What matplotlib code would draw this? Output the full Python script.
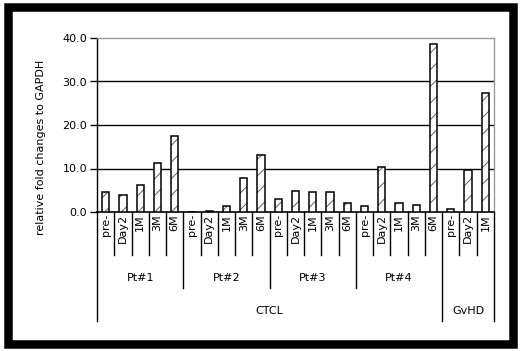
import matplotlib
matplotlib.use("Agg")
import matplotlib.pyplot as plt
from matplotlib.patches import Rectangle
import matplotlib.transforms as mtransforms

plt.rcParams['font.family'] = ['DejaVu Sans']
plt.rcParams['hatch.linewidth'] = 0.7

# ---- data ----
timepoints = ["pre-", "Day2", "1M", "3M", "6M"]
groups = ["Pt#1", "Pt#2", "Pt#3", "Pt#4", "GvHD"]
group_tps = [timepoints, timepoints, timepoints, timepoints, ["pre-", "Day2", "1M"]]
pt1 = [4.5, 3.8, 6.2, 11.3, 17.5]
pt2 = [0.0, 0.3, 1.3, 7.8, 13.0]
pt3 = [3.0, 4.8, 4.7, 4.7, 2.0]
pt4 = [1.3, 10.3, 2.0, 1.7, 38.7]
gvhd = [0.8, 9.7, 27.4]
disease_labels = ["CTCL", "GvHD"]
disease_groups = [["Pt#1", "Pt#2", "Pt#3", "Pt#4"], ["GvHD"]]
yticks = [0, 10, 20, 30, 40]
ylabel = "relative fold changes to GAPDH"

series = [pt1, pt2, pt3, pt4, gvhd]

W, H = 520, 351
fig = plt.figure(figsize=(W / 100, H / 100), dpi=100)

def fx(px):
    return px / W

def fy(py):
    return 1 - py / H

ax_l, ax_r, ax_t, ax_b = 97, 494, 38, 212
ax = fig.add_axes([fx(ax_l), fy(ax_b), fx(ax_r) - fx(ax_l), fy(ax_t) - fy(ax_b)])

values = [v for s in series for v in s]
labels = [t for tps in group_tps for t in tps]
xs = list(range(len(values)))

ax.bar(xs, values, width=0.42, color="white", edgecolor="#606060",
       linewidth=0, hatch="//", zorder=3)
ax.bar(xs, values, width=0.42, fill=False, edgecolor="black",
       linewidth=1.1, zorder=4)

ax.set_xlim(-0.5, len(values) - 0.5)
ax.set_ylim(0, 40)
ax.set_yticks(yticks)
ax.set_yticklabels([f"{t:.1f}" for t in yticks], fontsize=8)
ax.tick_params(axis="y", direction="out", length=5, width=1, pad=2)
ax.set_xticks([])
for y in yticks[1:-1]:
    ax.axhline(y, color="black", linewidth=1.0, zorder=1)

for s in ["top", "right"]:
    ax.spines[s].set_color("#999999")
    ax.spines[s].set_linewidth(1.0)
ax.spines["left"].set_linewidth(1.0)
ax.spines["bottom"].set_linewidth(1.2)

# multi-level category axis
trans = mtransforms.blended_transform_factory(ax.transData, ax.transAxes)
hpx = ax_b - ax_t

def ya(py):
    return (ax_b - py) / hpx

y_tp, y_grp, y_top = 255, 288, 321
n = len(values)
group_starts = []
i0 = 0
for tps in group_tps:
    group_starts.append(i0)
    i0 += len(tps)
group_starts.append(n)

for i, lab in enumerate(labels):
    ax.text(i, ya(214), lab, transform=trans, rotation=90, ha="center",
            va="top", fontsize=8)

for b in range(n + 1):
    xb = b - 0.5
    if b in (0, n) or b == group_starts[4]:
        bottom = y_top
    elif b in group_starts:
        bottom = y_grp
    else:
        bottom = y_tp
    ax.plot([xb, xb], [0, ya(bottom)], transform=trans, color="black",
            linewidth=1.0, clip_on=False)

for gi, g in enumerate(groups):
    a, b = group_starts[gi], group_starts[gi + 1]
    if g in disease_groups[0]:
        ax.text((a + b - 1) / 2, ya(278), g, transform=trans, ha="center",
                va="center", fontsize=8)

for dl, dg in zip(disease_labels, disease_groups):
    idx = [groups.index(g) for g in dg]
    a, b = group_starts[min(idx)], group_starts[max(idx) + 1]
    ax.text((a + b - 1) / 2, ya(311), dl, transform=trans, ha="center",
            va="center", fontsize=8)

fig.text(fx(41), fy(147), ylabel, rotation=90, ha="center", va="center",
         fontsize=8)

lw_px = 8.5
fig.patches.append(Rectangle((fx(7.5), fy(344)), fx(512.5) - fx(7.5),
                             fy(6.5) - fy(344), transform=fig.transFigure,
                             fill=False, edgecolor="black",
                             linewidth=lw_px * 0.72))

fig.savefig("out.png", dpi=100)
